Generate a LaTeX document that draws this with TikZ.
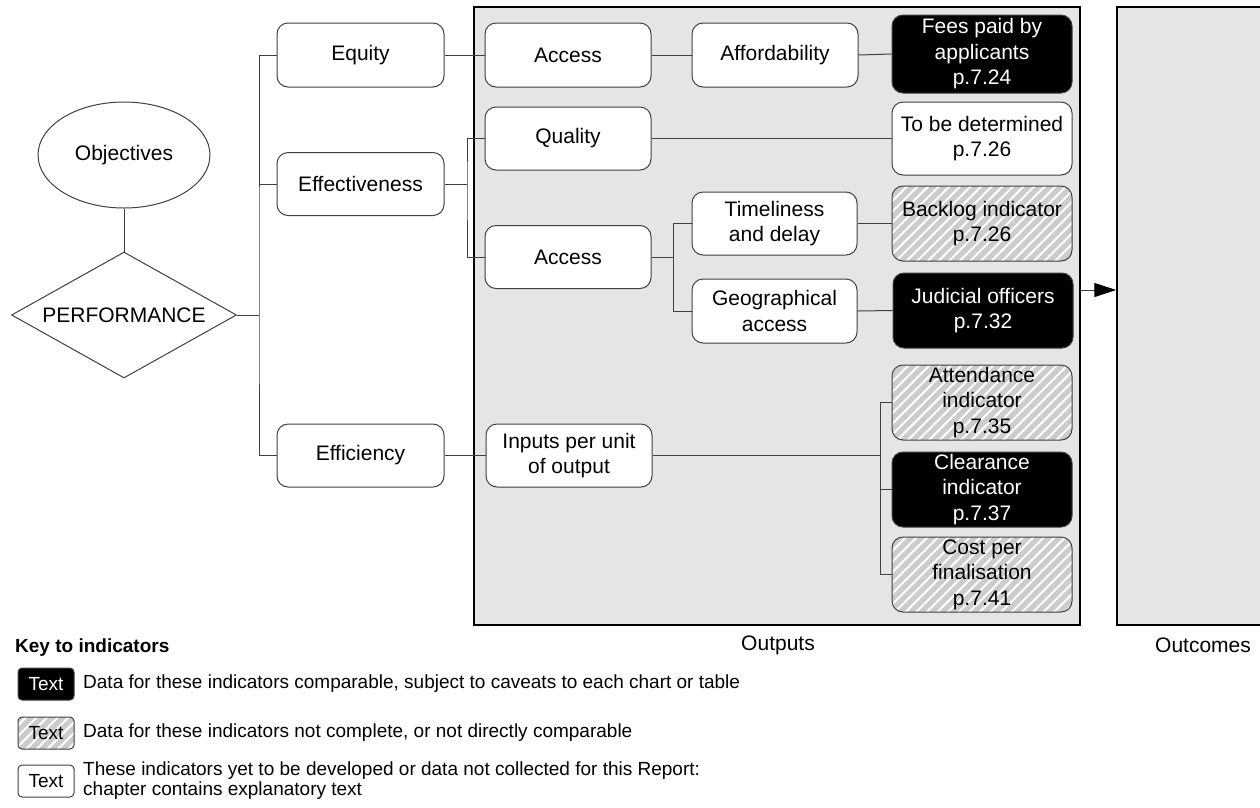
\documentclass[tikz,border=0pt]{standalone}
\usepackage{fontspec}
\setmainfont{Liberation Sans}
\usetikzlibrary{shapes.geometric,arrows.meta,patterns.meta}
\definecolor{boxfill}{gray}{0.9}
\definecolor{hatchfill}{gray}{0.8}
\definecolor{linegray}{gray}{0.25}
\begin{document}
\begin{tikzpicture}[x=1pt,y=-1pt,
  nodefont/.style={font=\fontsize{21}{25.5}\selectfont},
  box/.style={draw=linegray, line width=1pt, rounded corners=11pt, fill=white, align=center, nodefont, inner sep=0pt},
  sbox/.style={box, minimum width=166pt, minimum height=63pt},
  ibox/.style={box, minimum width=180pt, minimum height=75pt},
  dark/.style={fill=black, text=white},
  hatch/.style={fill=none, preaction={fill=hatchfill}, preaction={pattern={Lines[angle=45,distance=7.5pt,line width=2pt]}, pattern color=white}},
  conn/.style={draw=linegray, line width=1pt},
  panel/.style={draw=black, line width=1.5pt, fill=boxfill, inner sep=0pt, minimum height=618pt},
  keybox/.style={box, rounded corners=4pt, minimum width=56pt, minimum height=32pt, font=\fontsize{19}{22}\selectfont},
  legtext/.style={anchor=west, inner sep=0pt, align=left, font=\fontsize{19}{20}\selectfont},
]
\useasboundingbox (0,0) rectangle (1260,807);
\clip (0,0) rectangle (1260,807);
% panels
\node[panel, minimum width=606pt] (outputs) at (777,316) {};
\node[panel, minimum width=180pt] (outcomes) at (1207,316) {};
\node[nodefont] (outlbl) at (778,645) {Outputs};
\node[nodefont] (outclbl) at (1203,645) {Outcomes};
% objectives
\node[ellipse, draw=linegray, line width=1pt, fill=white, minimum width=172pt, minimum height=106pt, inner sep=0pt, nodefont] (obj) at (124,155) {Objectives};
\node[diamond, draw=linegray, line width=1pt, fill=white, minimum width=225pt, minimum height=126pt, aspect=1.786, inner sep=0pt, nodefont] (perf) at (124,315) {PERFORMANCE};
% level 1
\node[sbox, minimum height=64pt, minimum width=167pt] (equity) at (360.5,55) {Equity};
\node[sbox, minimum width=167pt] (effect) at (360.5,184) {Effectiveness};
\node[sbox, minimum width=167pt] (effic) at (360.5,455.5) {Efficiency};
% level 2
\node[sbox, minimum height=64pt] (access1) at (568,55) {Access};
\node[sbox] (quality) at (568,138.5) {Quality};
\node[sbox] (access2) at (568,257) {Access};
\node[sbox] (inputs) at (569,455.5) {Inputs per unit\\of output};
% level 3
\node[sbox, minimum height=64pt] (afford) at (775,55) {Affordability};
\node[sbox, minimum width=165pt] (timely) at (774.5,223.5) {Timeliness\\and delay};
\node[sbox, minimum width=165pt, minimum height=64pt] (geo) at (774.5,311) {Geographical\\access};
% indicators
\node[ibox, dark, minimum height=78pt] (fees) at (982,54) {Fees paid by\\applicants\\p.7.24};
\node[ibox, minimum height=73pt] (tbd) at (982,138.5) {To be determined\\p.7.26};
\node[ibox, hatch] (backlog) at (982,223.5) {Backlog indicator\\p.7.26};
\node[ibox, dark] (judicial) at (983,310.5) {Judicial officers\\p.7.32};
\node[ibox, hatch] (attend) at (982,402.5) {Attendance\\indicator\\p.7.35};
\node[ibox, dark] (clear) at (982,489.5) {Clearance\\indicator\\p.7.37};
\node[ibox, hatch] (cost) at (982,574.5) {Cost per\\finalisation\\p.7.41};
% junction coordinates
\coordinate (tr) at (259,315);
\coordinate (b1) at (467,184);
\coordinate (b2) at (673,257);
\coordinate (b3) at (880,455.5);
% connectors
\draw[conn] (obj.south) -- (perf.north);
\draw[conn] (perf.east) -- (tr);
\draw[conn] (equity.west) -| (tr) |- (effic.west);
\draw[conn] (effect.west) -- (effect.west -| tr);
\draw[conn] (equity.east) -- (access1.west);
\draw[conn] (access1.east) -- (afford.west);
\draw[conn] (afford.east) -- (fees.west);
\draw[conn] (effect.east) -- (b1);
\draw[conn] (quality.west) -| (b1) |- (access2.west);
\draw[conn] (quality.east) -- (tbd.west);
\draw[conn] (access2.east) -- (b2);
\draw[conn] (timely.west) -| (b2) |- (geo.west);
\draw[conn] (timely.east) -- (backlog.west);
\draw[conn] (geo.east) -- (judicial.west);
\draw[conn] (effic.east) -- (inputs.west);
\draw[conn] (inputs.east) -- (b3);
\draw[conn] (attend.west) -| (b3) |- (cost.west);
\draw[conn] (clear.west) -- (clear.west -| b3);
\coordinate (arr) at (1080,290);
\draw[conn, -{Triangle[length=22pt,width=14pt,color=black,fill=black]}] (outputs.east |- arr) -- (outcomes.west |- arr);
% legend
\node[anchor=west, inner sep=0pt, font=\bfseries\fontsize{19}{22}\selectfont] (key) at (15,648) {Key to indicators};
\node[keybox, dark] (k1) at (46,684) {Text};
\node[keybox, hatch] (k2) at (46,733) {Text};
\node[keybox] (k3) at (46,781) {Text};
\node[legtext] (t1) at (83,684) {Data for these indicators comparable, subject to caveats to each chart or table};
\node[legtext] (t2) at (83,733) {Data for these indicators not complete, or not directly comparable};
\node[legtext] (t3) at (83,781) {These indicators yet to be developed or data not collected for this Report:\\chapter contains explanatory text};
\end{tikzpicture}
\end{document}
